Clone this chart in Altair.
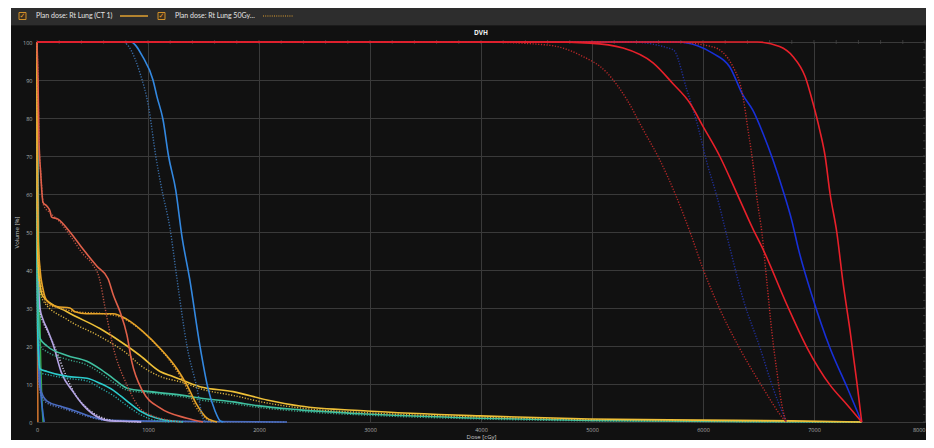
import altair as alt
import pandas as pd

# ------------------------------------------------------------------ data
legend_labels = ["Plan dose: Rt Lung (CT 1)", "Plan dose: Rt Lung 50Gy..."]
chart_title = "DVH"
x_title = "Dose [cGy]"
y_title = "Volume [%]"
x_ticks = [0, 1000, 2000, 3000, 4000, 5000, 6000, 7000, 8000]
y_ticks = [0, 10, 20, 30, 40, 50, 60, 70, 80, 90, 100]
x_minor = list(range(0, 8001, 200))
y_minor = list(range(0, 101, 2))

# high dose structures (plan CT 1 = solid, 50Gy plan = dotted)
red_hi_dose = [0, 6490, 6690, 6810, 6920, 6990, 7050, 7100, 7145, 7205, 7260, 7325, 7385, 7430]
red_hi_vol = [100, 100, 98.8, 96.2, 90.9, 84, 77, 70, 60, 50, 37, 24, 10.7, 0]
red_hi2_dose = [0, 5730, 6090, 6270, 6360, 6405, 6450, 6490, 6530, 6575, 6620, 6665, 6710, 6750]
red_hi2_vol = [100, 100, 98.7, 93.5, 85.6, 77, 68, 58, 50, 37, 23.8, 13.4, 4.5, 0]

blue_hi_dose = [0, 5770, 5950, 6090, 6240, 6360, 6450, 6540, 6630, 6720, 6800, 6860, 6990, 7145, 7300, 7430]
blue_hi_vol = [100, 100, 99, 97, 93.5, 86, 82, 76, 69, 61, 53, 45.5, 32.5, 19.4, 9, 0]
blue_hi2_dose = [0, 5340, 5730, 5855, 5945, 6035, 6125, 6245, 6360, 6515, 6630, 6750]
blue_hi2_vol = [100, 100, 98, 87.4, 78.8, 68.3, 59.4, 45.5, 32.5, 19.4, 9, 0]

red_mid_dose = [0, 4600, 4980, 5280, 5550, 5730, 5880, 6000, 6150, 6300, 6450, 6540, 6760, 6940, 7145, 7300, 7430]
red_mid_vol = [100, 100, 99.7, 98.4, 94.5, 89, 84, 77.8, 70, 60.5, 50.8, 45.5, 30.6, 19.4, 9.7, 4.5, 0]
red_mid2_dose = [0, 3990, 4600, 4890, 5135, 5315, 5460, 5610, 5750, 5883, 6000, 6150, 6330, 6540, 6720, 6750]
red_mid2_vol = [100, 100, 99.2, 96.6, 91.9, 84.8, 77, 69, 60, 50, 40.3, 29.8, 19.4, 9, 1, 0]

# low / mid dose structures
lblue_dose = [0, 845, 955, 1045, 1080, 1135, 1185, 1250, 1305, 1375, 1468, 1540, 1604, 1650, 1680]
lblue_vol = [100, 100, 96, 90, 85.7, 79.6, 70, 61, 49, 37.7, 20, 8.9, 2.9, 0.3, 0]
lblue2_dose = [0, 770, 928, 1005, 1070, 1126, 1198, 1261, 1351, 1441, 1495, 1520]
lblue2_vol = [100, 100, 91.8, 83, 70, 61, 51, 37.7, 20, 8.9, 1, 0]

salmon_dose = [0, 9, 18, 33, 54, 90, 117, 132, 189, 297, 414, 540, 640, 690, 748, 811, 853, 955, 1108, 1351, 1495]
salmon_vol = [100, 90, 74, 65.6, 57.8, 56.8, 55.5, 53.9, 53.4, 50, 45.5, 41, 37.7, 33.2, 29, 22.8, 16, 8, 3.7, 1, 0]
salmon2_dose = [0, 9, 18, 35, 60, 120, 207, 300, 420, 500, 560, 620, 684, 811, 955, 1225, 1300]
salmon2_vol = [100, 90, 74, 65, 57, 55, 52.6, 49, 44, 41.5, 38, 29, 20, 9.7, 2.9, 0.3, 0]

goldA_dose = [0, 3, 8, 27, 54, 87, 177, 297, 342, 447, 685, 811, 955, 1108, 1261, 1351, 1441, 1532, 1622]
goldA_vol = [100, 70, 50, 40.3, 35, 32, 30.4, 30, 29, 28.5, 28.5, 27, 23.8, 19.4, 14, 9.7, 4.5, 1, 0]
goldA2_dose = [0, 3, 8, 25, 54, 90, 200, 350, 600, 760, 900, 1050, 1200, 1330, 1430, 1520, 1580]
goldA2_vol = [100, 70, 50, 40, 34, 31, 30, 29, 28.5, 27.5, 25, 21, 16, 10, 4, 1, 0]

goldB_dose = [0, 2, 6, 20, 54, 270, 567, 811, 928, 1108, 1225, 1468, 1766, 2072, 2369, 2973, 3991, 4982, 5973, 6800, 7430]
goldB_vol = [100, 60, 45, 38, 33, 29, 24.6, 20, 17.5, 13.3, 12, 9.3, 8, 5.8, 4.2, 2.9, 1.6, 0.8, 0.5, 0.3, 0]
goldB2_dose = [0, 2, 6, 20, 54, 270, 567, 811, 928, 1108, 1300, 1500, 1766, 2072, 2400, 3000, 4000, 5000, 6000, 7430]
goldB2_vol = [100, 55, 45, 36, 32, 27, 22.5, 18, 15, 12, 10.5, 8.5, 7, 5, 3.6, 2.4, 1.3, 0.6, 0.3, 0]

teal_dose = [0, 3, 27, 90, 270, 450, 567, 685, 811, 1018, 1315, 1468, 1766, 1982, 2369, 2973, 3991, 4982, 6500, 7430]
teal_vol = [100, 40, 22, 20, 17.5, 16, 14, 11.5, 8.9, 8, 7, 6.3, 5.3, 4.3, 3.2, 2.1, 1, 0.4, 0.1, 0]
teal2_dose = [0, 3, 27, 90, 270, 450, 567, 685, 811, 1018, 1315, 1468, 1766, 1982, 2369, 2973, 3991, 4982, 7430]
teal2_vol = [100, 35, 20, 18.5, 16.5, 15, 13, 10.5, 8.4, 7.6, 6.6, 5.8, 4.8, 3.9, 2.8, 1.8, 0.8, 0.3, 0]

cyan_dose = [0, 2, 8, 27, 90, 270, 450, 567, 685, 811, 928, 1081, 1315]
cyan_vol = [100, 40, 22, 14, 13.3, 12, 11.5, 10.2, 8.4, 5.5, 2.9, 1, 0]
cyan2_dose = [0, 2, 8, 27, 90, 270, 450, 567, 685, 811, 928, 1054, 1200]
cyan2_vol = [100, 35, 20, 13, 12.5, 11.5, 10.8, 9, 7, 4.3, 2, 0.5, 0]

lav_dose = [0, 5, 15, 27, 54, 90, 144, 220, 324, 414, 567, 658, 900, 940]
lav_vol = [100, 60, 35, 30, 27, 24.6, 20.5, 13, 8, 4.5, 1, 0.3, 0.1, 0]
lav2_dose = [0, 5, 15, 27, 60, 110, 170, 250, 340, 440, 600, 750, 940]
lav2_vol = [100, 55, 33, 29, 26, 23, 19, 13, 7.5, 4, 1, 0.2, 0]

steel_dose = [0, 4, 15, 27, 90, 207, 324, 450, 630, 1200, 2250]
steel_vol = [100, 40, 15, 9, 5.5, 4.2, 3.1, 1.8, 0.5, 0.2, 0]
steel2_dose = [0, 4, 15, 27, 90, 207, 324, 450, 630, 1400, 2250]
steel2_vol = [100, 35, 13, 8, 5, 3.8, 2.7, 1.5, 0.4, 0.1, 0]

green_dose = [0, 15, 30, 45, 55]
green_vol = [100, 50, 20, 5, 0]
navy_dose = [0, 10, 30, 50, 65]
navy_vol = [100, 30, 10, 3, 0]
orange_dose = [0, 3, 8]
orange_vol = [100, 40, 0]

# (name, dotted?, colour, dose list, volume list) -- drawing order
curves = [
    ("orange", False, "#c8702c", orange_dose, orange_vol),
    ("green", False, "#36a84a", green_dose, green_vol),
    ("navy", False, "#3a6ed0", navy_dose, navy_vol),
    ("steel2", True, "#5a78c0", steel2_dose, steel2_vol),
    ("steel", False, "#4a6cc0", steel_dose, steel_vol),
    ("lav2", True, "#dcd4f4", lav2_dose, lav2_vol),
    ("lav", False, "#b4a4e4", lav_dose, lav_vol),
    ("cyan2", True, "#2aa8a8", cyan2_dose, cyan2_vol),
    ("cyan", False, "#2ccccc", cyan_dose, cyan_vol),
    ("teal2", True, "#3aa488", teal2_dose, teal2_vol),
    ("teal", False, "#40c0a0", teal_dose, teal_vol),
    ("goldB2", True, "#d8b040", goldB2_dose, goldB2_vol),
    ("goldB", False, "#eec038", goldB_dose, goldB_vol),
    ("goldA2", True, "#d09030", goldA2_dose, goldA2_vol),
    ("goldA", False, "#e8a428", goldA_dose, goldA_vol),
    ("salmon2", True, "#b85040", salmon2_dose, salmon2_vol),
    ("salmon", False, "#e0604a", salmon_dose, salmon_vol),
    ("lblue2", True, "#3a6ea8", lblue2_dose, lblue2_vol),
    ("lblue", False, "#3388e0", lblue_dose, lblue_vol),
    ("blue_hi2", True, "#20309c", blue_hi2_dose, blue_hi2_vol),
    ("blue_hi", False, "#1830d8", blue_hi_dose, blue_hi_vol),
    ("red_mid2", True, "#b82828", red_mid2_dose, red_mid2_vol),
    ("red_hi2", True, "#c02a2a", red_hi2_dose, red_hi2_vol),
    ("red_mid", False, "#e8202a", red_mid_dose, red_mid_vol),
    ("red_hi", False, "#e8202a", red_hi_dose, red_hi_vol),
]

# ------------------------------------------------------------------ layout
W, H = 888, 380
BG = "#111111"
one = pd.DataFrame({"k": [0]})

xs = alt.Scale(domain=[0, 8000], nice=False, zero=False)
ys = alt.Scale(domain=[0, 100], nice=False, zero=False)

common = dict(labelFlush=False, labelOverlap=False, format="d",
              grid=True, gridColor="#3a3a3a", gridWidth=1, domain=False,
              ticks=False, labelColor="#b0b0b0", titleColor="#c8c8c8",
              labelFontSize=5.5, titleFontSize=6, titleFontWeight="normal",
              labelFont="Open Sans", titleFont="Open Sans")
x_axis = alt.Axis(values=x_ticks, title=x_title, labelPadding=5, titlePadding=1,
                  labelAlign=alt.expr("datum.value >= 8000 ? 'right' : 'center'"), **common)
y_axis = alt.Axis(values=y_ticks, title=y_title, labelPadding=5, titlePadding=3, **common)

X = lambda: alt.X("dose:Q", scale=xs, axis=x_axis)
Y = lambda: alt.Y("vol:Q", scale=ys, axis=y_axis)

layers = []
# axes carrier (invisible) first so grid sits underneath
axis_df = pd.DataFrame({"dose": [0, 8000], "vol": [0, 100]})
layers.append(alt.Chart(axis_df).mark_point(opacity=0).encode(x=X(), y=Y()))

# minor tick marks on the top and right borders
layers.append(alt.Chart(pd.DataFrame({"dose": x_minor})).mark_tick(
    color="#4a4a4a", size=4, thickness=1, orient="vertical").encode(x=X(), y=alt.value(0)))
layers.append(alt.Chart(pd.DataFrame({"vol": y_minor})).mark_tick(
    color="#4a4a4a", size=4, thickness=1, orient="horizontal").encode(y=Y(), x=alt.value(W)))

# left white strip and header bar (outside plot area)
layers.append(alt.Chart(one).mark_rect(color="#ffffff").encode(
    x=alt.value(-29), x2=alt.value(-26), y=alt.value(-34), y2=alt.value(H + 18)))
layers.append(alt.Chart(one).mark_rect(color="#2d2d2d").encode(
    x=alt.value(-26), x2=alt.value(W + 1), y=alt.value(-34), y2=alt.value(-17)))
layers.append(alt.Chart(one).mark_rule(color="#1b1b1b", strokeWidth=1).encode(
    x=alt.value(-26), x2=alt.value(W + 1), y=alt.value(-16.5)))

# header legend: checkboxes, labels, sample lines
for cx, lab, lx0, lx1, dotted in [(-18, legend_labels[0], 83, 111, False),
                                   (121, legend_labels[1], 226, 256, True)]:
    layers.append(alt.Chart(one).mark_rect(fill="#3a2f20", stroke="#d0902a", strokeWidth=1).encode(
        x=alt.value(cx), x2=alt.value(cx + 7), y=alt.value(-29.5), y2=alt.value(-22.5)))
    layers.append(alt.Chart(one).mark_text(text="✓", color="#e8a030", fontSize=7,
                                           font="DejaVu Sans", align="center", baseline="middle").encode(
        x=alt.value(cx + 3.5), y=alt.value(-26)))
    layers.append(alt.Chart(one).mark_text(text=lab, color="#e4e4e4", fontSize=7, font="Lato",
                                           align="left", baseline="middle").encode(
        x=alt.value(cx + 17), y=alt.value(-26)))
    if dotted:
        layers.append(alt.Chart(one).mark_rule(color="#e0a030", strokeWidth=1.2, strokeDash=[1, 1.2]).encode(
            x=alt.value(lx0), x2=alt.value(lx1), y=alt.value(-26)))
    else:
        layers.append(alt.Chart(one).mark_rule(color="#e0a030", strokeWidth=1.5).encode(
            x=alt.value(lx0), x2=alt.value(lx1), y=alt.value(-26)))

# chart title
layers.append(alt.Chart(one).mark_text(text=chart_title, color="#f0f0f0", fontSize=6.5,
                                       fontWeight="bold", font="Open Sans",
                                       align="center", baseline="middle").encode(
    x=alt.value(W / 2), y=alt.value(-9)))

# DVH curves
for name, dotted, color, d, v in curves:
    cdf = pd.DataFrame({"dose": d, "vol": v, "i": list(range(len(d)))})
    if dotted:
        mk = alt.Chart(cdf).mark_line(color=color, strokeWidth=1.4, strokeDash=[1.2, 1.6],
                                      interpolate="monotone")
    else:
        mk = alt.Chart(cdf).mark_line(color=color, strokeWidth=1.6, interpolate="monotone")
    layers.append(mk.encode(x=X(), y=Y(), order="i:Q"))

chart = alt.layer(*layers).properties(
    width=W, height=H,
    padding={"left": 29, "top": 34, "right": 1, "bottom": 18},
    autosize=alt.AutoSizeParams(type="none"),
    background=BG,
).configure_view(stroke="#4a4a4a", fill=BG)

chart.save("out.html", embed_options={"renderer": "svg", "actions": False})
